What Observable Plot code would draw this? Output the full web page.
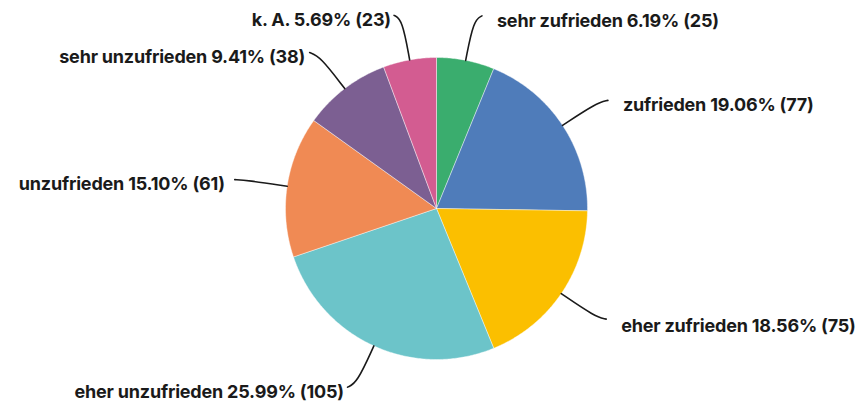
<!DOCTYPE html>
<html>
<head>
<meta charset="utf-8">
<script src="https://cdn.jsdelivr.net/npm/d3@7"></script>
<script src="https://cdn.jsdelivr.net/npm/@observablehq/plot@0.6"></script>
<style>
  html, body { margin: 0; padding: 0; background: #fff; }
  #chart svg { display: block; }
</style>
</head>
<body>
<div id="chart"></div>
<script>
const categories = ["sehr zufrieden", "zufrieden", "eher zufrieden", "eher unzufrieden", "unzufrieden", "sehr unzufrieden", "k. A."];
const counts = [25, 77, 75, 105, 61, 38, 23];
const colors = ["#3aad6e", "#4f7cba", "#fbbf00", "#6cc4c9", "#f08a54", "#7c5f92", "#d35c91"];

const W = 866, H = 407;
const cx = 436, cy = 208, R = 151;

const total = d3.sum(counts);
const arcs = d3.pie().sort(null).value(d => d)(counts).map((a, i) => ({
  cat: categories[i],
  value: counts[i],
  pct: (counts[i] / total * 100).toFixed(2) + "%",
  a0: a.startAngle,
  a1: a.endAngle,
  mid: (a.startAngle + a.endAngle) / 2
}));

// slice polygons in unit coordinates (radius 1)
const slicePts = [];
for (const a of arcs) {
  slicePts.push({cat: a.cat, x: 0, y: 0});
  const n = Math.max(2, Math.ceil((a.a1 - a.a0) / 0.01));
  for (let k = 0; k <= n; k++) {
    const t = a.a0 + (a.a1 - a.a0) * k / n;
    slicePts.push({cat: a.cat, x: Math.sin(t), y: Math.cos(t)});
  }
  slicePts.push({cat: a.cat, x: 0, y: 0});
}

// leader lines and label anchors
const leaderPts = [];
const labels = [];
for (const a of arcs) {
  const s = Math.sin(a.mid), c = Math.cos(a.mid);
  const side = s >= 0 ? 1 : -1;
  const p0 = {x: s * 1.0, y: c * 1.0};
  const p1 = {x: s * 1.27, y: c * 1.27};
  const p2 = {x: s * 1.3 + side * 0.05, y: c * 1.3};
  leaderPts.push({cat: a.cat, ...p0}, {cat: a.cat, ...p1}, {cat: a.cat, ...p2});
  const dx = side > 0 ? 15 : -(11 - 8 * Math.abs(c));
  const dy = 5 + (side > 0 ? 4 * Math.max(0, -c) : 0);
  labels.push({
    text: `${a.cat} ${a.pct} (${a.value})`,
    x: p2.x + dx / R,
    y: p2.y - dy / R,
    anchor: side > 0 ? "start" : "end"
  });
}

const chart = Plot.plot({
  width: W,
  height: H,
  margin: 0,
  style: {background: "#fff", fontFamily: "Inter, 'Noto Sans', sans-serif"},
  x: {domain: [-cx / R, (W - cx) / R], axis: null},
  y: {domain: [-(H - cy) / R, cy / R], axis: null},
  color: {domain: categories, range: colors},
  marks: [
    Plot.line(slicePts, {x: "x", y: "y", z: "cat", fill: "cat", stroke: "#ffffff", strokeWidth: 0.6, strokeOpacity: 0.7, curve: "linear"}),
    Plot.line(leaderPts, {x: "x", y: "y", z: "cat", stroke: "#1a1a1a", strokeWidth: 1.6, curve: "basis"}),
    Plot.text(labels.filter(d => d.anchor === "start"), {x: "x", y: "y", text: "text", textAnchor: "start", fontSize: 18, fontWeight: 700, fill: "#1a1a1a"}),
    Plot.text(labels.filter(d => d.anchor === "end"), {x: "x", y: "y", text: "text", textAnchor: "end", fontSize: 18, fontWeight: 700, fill: "#1a1a1a"})
  ]
});

chart.querySelectorAll("text").forEach(t => t.style.letterSpacing = "-0.2px");
document.getElementById("chart").appendChild(chart);
</script>
</body>
</html>
